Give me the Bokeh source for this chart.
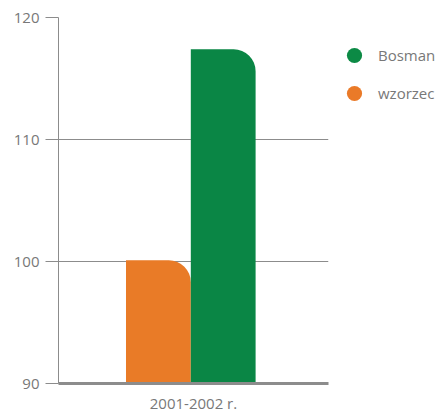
from bokeh.plotting import figure
from bokeh.models import FactorRange, Range1d, Legend, LegendItem, FixedTicker
from bokeh.transform import dodge
from bokeh.embed import file_html
from bokeh.resources import INLINE

categories = ["2001-2002 r."]
bosman = [117.4]
wzorzec = [100.1]
series_names = ["Bosman", "wzorzec"]
y_ticks = [90, 100, 110, 120]

FONT = "Open Sans"
GRAY_TXT = "#787878"
LINE = "#8c8c8c"

p = figure(frame_width=270, frame_height=366, x_range=FactorRange(*categories), y_range=Range1d(90, 120),
           output_backend="svg", toolbar_location=None,
           min_border_left=58, min_border_right=0, min_border_top=17, min_border_bottom=30)
p.outline_line_color = None

src = dict(cat=categories, bosman=bosman, wzorzec=wzorzec)
r_w = p.vbar(x=dodge("cat", -0.13, range=p.x_range), top="wzorzec", bottom=90, width=0.24,
             source=src, fill_color="#E97B27", line_color=None, border_radius=(0, 22, 0, 0))
r_b = p.vbar(x=dodge("cat", 0.11, range=p.x_range), top="bosman", bottom=90, width=0.24,
             source=src, fill_color="#0A8645", line_color=None, border_radius=(0, 22, 0, 0))

# legend proxies (placed below the visible range so only the legend shows them)
l_b = p.scatter(x=categories, y=[0], marker="circle", size=20, fill_color="#0C8A45", line_color=None)
l_w = p.scatter(x=categories, y=[0], marker="circle", size=20, fill_color="#EA7A28", line_color=None)

p.xgrid.grid_line_color = None
p.ygrid.grid_line_color = LINE
p.ygrid.grid_line_width = 1
p.ygrid.ticker = FixedTicker(ticks=y_ticks)

p.yaxis.ticker = FixedTicker(ticks=y_ticks)
p.yaxis.axis_line_color = LINE
p.yaxis.major_tick_line_color = LINE
p.yaxis.major_tick_out = 13
p.yaxis.major_tick_in = 0
p.yaxis.minor_tick_line_color = None
p.yaxis.major_label_text_font = FONT
p.yaxis.major_label_text_font_size = "15px"
p.yaxis.major_label_text_color = GRAY_TXT
p.yaxis.major_label_standoff = 6

p.xaxis.axis_line_color = LINE
p.xaxis.axis_line_width = 3
p.xaxis.major_tick_line_color = None
p.xaxis.minor_tick_line_color = None
p.xaxis.major_label_text_font = FONT
p.xaxis.major_label_text_font_size = "15px"
p.xaxis.major_label_text_color = GRAY_TXT
p.xaxis.major_label_standoff = 3

legend = Legend(items=[LegendItem(label=series_names[0], renderers=[l_b]),
                       LegendItem(label=series_names[1], renderers=[l_w])],
                location=(2, 271), border_line_color=None, background_fill_alpha=0,
                margin=0, padding=0, spacing=0, glyph_width=48, glyph_height=38,
                label_text_font=FONT, label_text_font_size="15px", label_text_color=GRAY_TXT,
                label_standoff=0)
p.add_layout(legend, "right")

open("out.html", "w").write(file_html(p, INLINE))
